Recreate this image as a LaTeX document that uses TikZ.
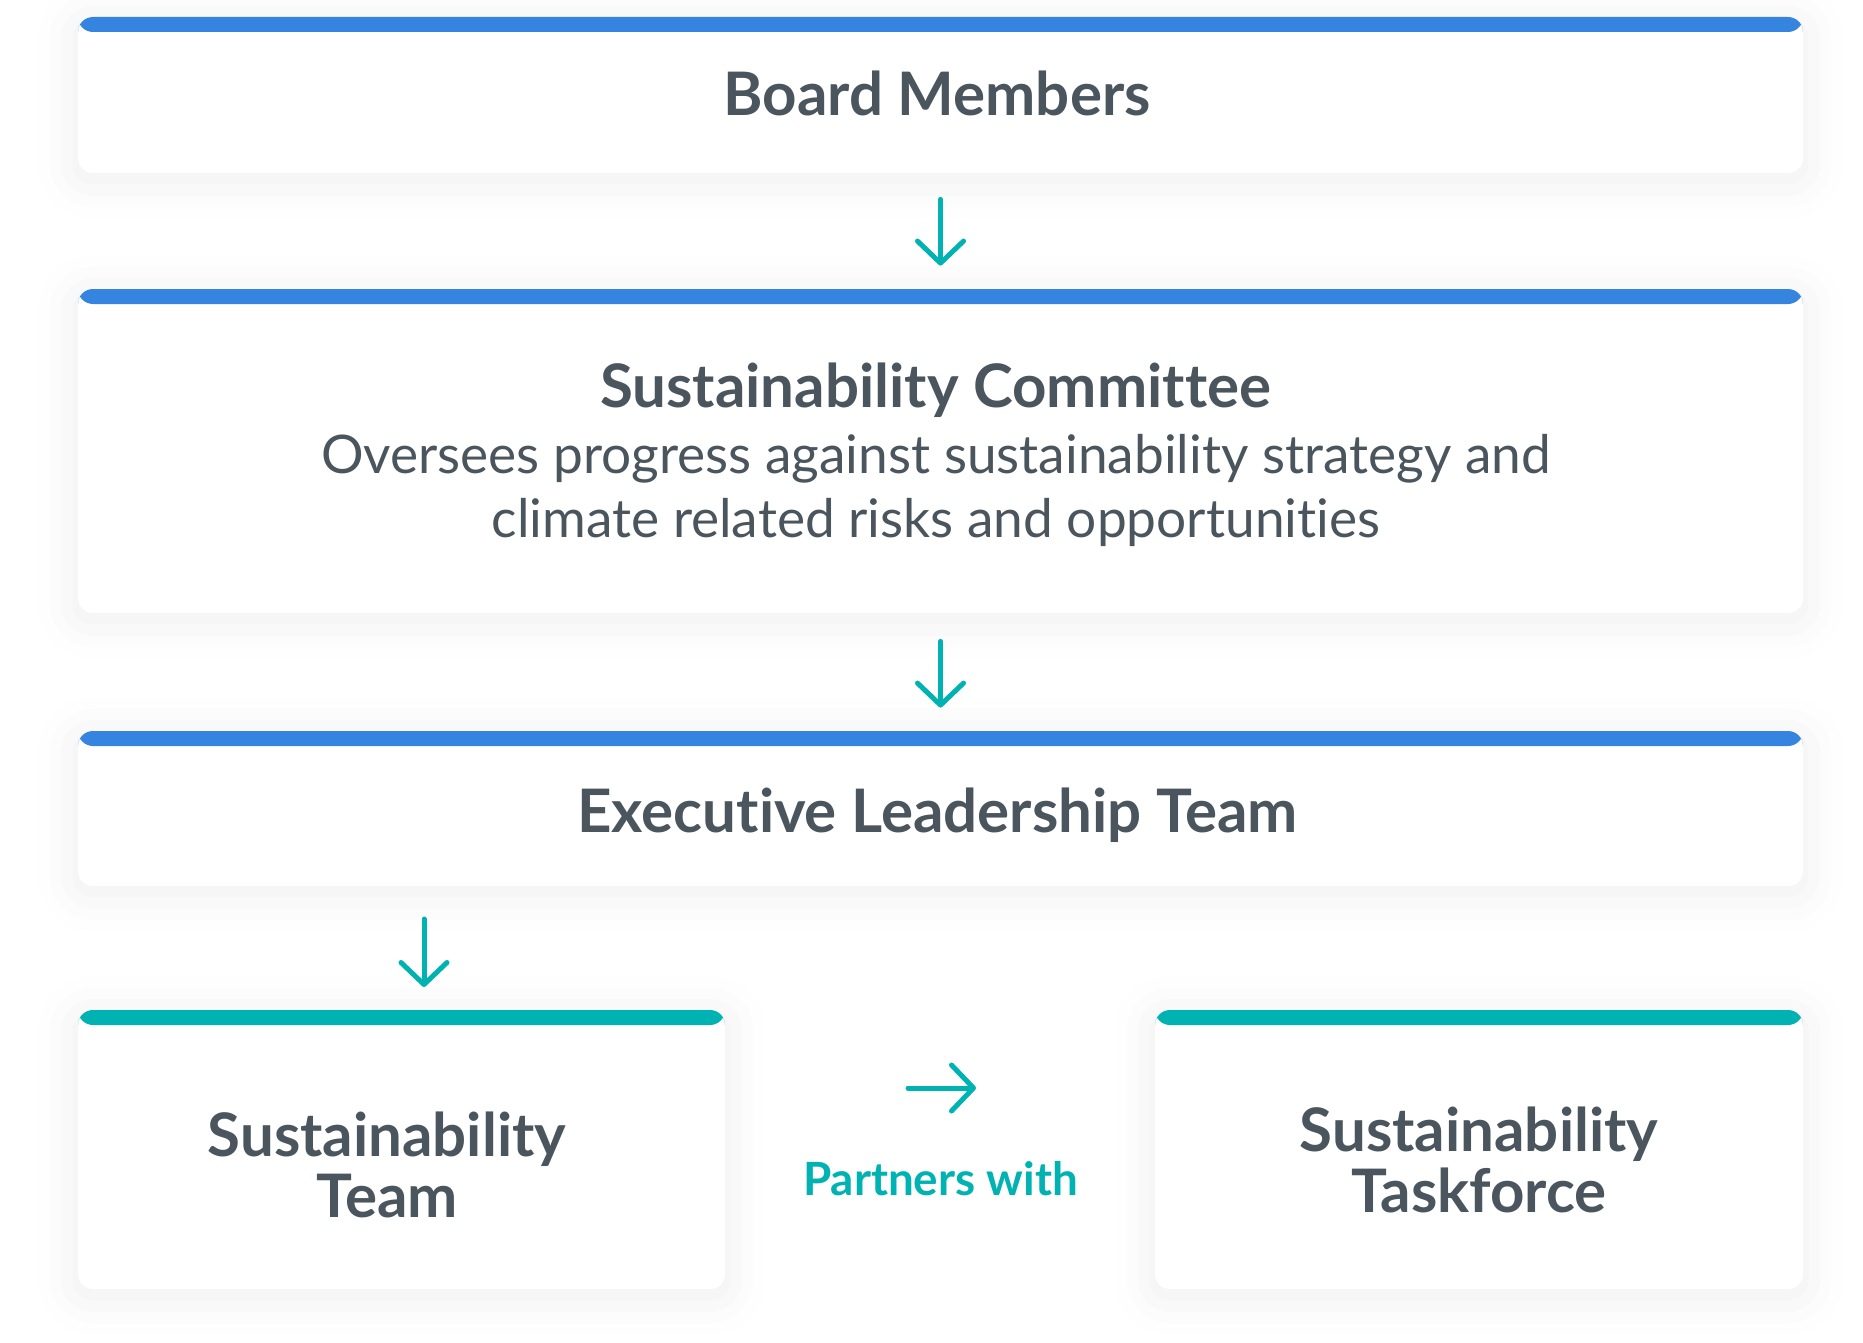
\documentclass[tikz,border=0pt]{standalone}
\usepackage{fontspec}
\setmainfont{Lato}[Ligatures={NoCommon,NoRare}]
\usetikzlibrary{arrows.meta,shadows.blur}
\definecolor{barblue}{HTML}{3584E0}
\definecolor{barteal}{HTML}{00B2B2}
\definecolor{inkgray}{HTML}{4A555E}
\tikzset{
  card/.style={draw=none, fill=white, rounded corners=7.5pt, inner sep=0pt,
    blur shadow={shadow xshift=0pt, shadow yshift=-3pt, shadow blur radius=20pt, shadow opacity=7}},
  bluecard/.style={card, path picture={\fill[barblue] (path picture bounding box.north west) rectangle ([yshift=-7.5pt]path picture bounding box.north east);}},
  tealcard/.style={card, path picture={\fill[barteal] (path picture bounding box.north west) rectangle ([yshift=-7.5pt]path picture bounding box.north east);}},
  head/.style={anchor=base, inner sep=0pt, text=inkgray, align=center, font=\fontsize{30}{30.5}\selectfont\bfseries},
  body/.style={anchor=base, inner sep=0pt, text=inkgray, align=center, font=\fontsize{26.6}{32}\selectfont},
  flow/.style={draw=barteal, line width=2.5pt, line cap=round,
    -{Straight Barb[length=11pt,width=23pt,line cap=round,line join=round]}},
}
\begin{document}
\begin{tikzpicture}[x=0.5pt,y=0.5pt,yscale=-1,xscale=1]
    \useasboundingbox (0,0) rectangle (1863,1343);
    % cards
    \node[bluecard, minimum width=862.5pt, minimum height=78pt] (board) at (940.5,95) {};
    \node[bluecard, minimum width=862.5pt, minimum height=162pt] (comm) at (940.5,451) {};
    \node[bluecard, minimum width=862.5pt, minimum height=77.5pt] (exec) at (940.5,808.5) {};
    \node[tealcard, minimum width=323.5pt, minimum height=139.5pt] (team) at (401.5,1149.5) {};
    \node[tealcard, minimum width=324pt, minimum height=139.5pt] (task) at (1479,1149.5) {};
    % texts (base = last line)
    \node[head] (board-t) at (937,116) {Board Members};
    \node[head] (comm-t) at (935.5,407) {Sustainability Committee};
    \node[body] (comm-b) at (936,537) {Oversees progress against sustainability strategy and\\climate related risks and opportunities};
    \node[head] (exec-t) at (937.5,832) {Executive Leadership Team};
    \node[head] (team-t) at (387,1217) {Sustainability\\Team};
    \node[head] (task-t) at (1479,1212) {Sustainability\\Taskforce};
    \node[anchor=base, inner sep=0pt, text=barteal, font=\fontsize{22.9}{26}\selectfont\bfseries] (partner-t) at (940.5,1195) {Partners with};
    % arrows
    \coordinate (down3a) at (424,919);
    \coordinate (down3b) at (424,987);
    \coordinate (side-a) at (908,1088);
    \coordinate (side-b) at (976,1088);
    \draw[flow, shorten <=13pt, shorten >=11.5pt] (board.south) -- (comm.north);
    \draw[flow, shorten <=14pt, shorten >=11.5pt] (comm.south) -- (exec.north);
    \draw[flow] (down3a) -- (down3b);
    \draw[flow] (side-a) -- (side-b);
\end{tikzpicture}
\end{document}
